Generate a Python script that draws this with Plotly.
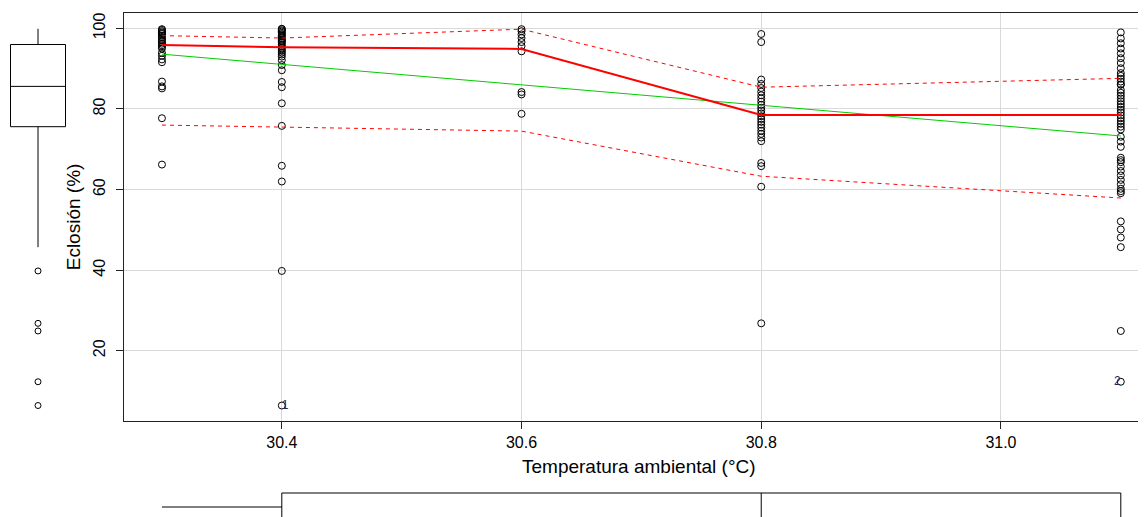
import plotly.graph_objects as go

# ---------------- data ----------------
temp_levels = [30.3, 30.4, 30.6, 30.8, 31.1]

ecl_303 = [99.8, 99.6, 99.3, 99.0, 98.8, 98.6, 98.2, 97.8, 97.4, 97.0, 96.6, 96.2, 95.8,
           95.4, 95.0, 93.9, 93.2, 92.3, 91.6, 86.8, 85.6, 85.1, 77.7, 66.2]
ecl_304 = [99.9, 99.8, 99.5, 99.2, 98.9, 98.6, 98.3, 98.0, 97.6, 97.2, 96.9, 96.8, 96.4,
           96.0, 95.6, 95.2, 94.8, 94.4, 94.0, 93.5, 93.0, 92.1, 90.9, 89.6, 86.7, 85.4,
           81.4, 75.8, 65.9, 62.0, 39.8, 6.4]
ecl_306 = [99.8, 99.3, 98.5, 97.6, 96.6, 95.6, 94.3, 84.2, 83.6, 78.8]
ecl_308 = [98.6, 96.6, 87.3, 86.2, 85.2, 84.3, 83.4, 82.6, 81.8, 81.0, 80.3, 79.6, 78.9,
           78.2, 77.5, 76.8, 76.1, 75.4, 74.6, 73.8, 72.9, 72.0, 66.6, 65.8, 60.7, 26.8]
ecl_311 = [99.0, 97.5, 96.3, 95.0, 93.8, 92.6, 91.4, 90.1, 88.9, 88.2, 87.5, 86.8, 86.1,
           86.0, 84.7, 84.0, 83.3, 82.6, 81.9, 81.2, 80.5, 79.8, 79.1, 78.4, 77.7, 77.0,
           76.3, 75.6, 74.9, 73.1, 71.9, 70.6, 67.9, 67.3, 66.8, 65.7, 64.6, 63.5, 62.4,
           61.3, 60.2, 59.6, 59.1, 52.1, 50.1, 48.1, 45.7, 24.9, 12.3]
groups = [ecl_303, ecl_304, ecl_306, ecl_308, ecl_311]

# loess smoother and spread (car::scatterplot style)
smooth_fit = [95.9, 95.3, 94.9, 78.5, 78.5]
smooth_upper = [98.2, 97.6, 99.8, 85.4, 87.6]
smooth_lower = [76.0, 75.5, 74.5, 63.3, 57.9]

# least-squares line end points
lm_x = [30.3, 31.1]
lm_y = [93.6, 73.3]

# identified points
id_x = [30.4, 31.1]
id_y = [6.4, 12.3]
id_text = ["1", "2"]
id_pos = ["middle right", "middle left"]

x_ticks = [30.4, 30.6, 30.8, 31.0]
x_ticktext = ["30.4", "30.6", "30.8", "31.0"]
y_ticks = [20, 40, 60, 80, 100]
y_ticktext = ["20", "40", "60", "80", "100"]

all_x = [t for t, g in zip(temp_levels, groups) for _ in g]
all_y = [v for g in groups for v in g]

# ---------------- figure ----------------
W, H = 1146, 517
FONT = "Liberation Sans, Arial, sans-serif"
X_RANGE = [30.268, 31.1277]
Y_RANGE = [2.66, 103.74]
X_DOM = [115.6 / W, 1.0]
Y_DOM = [(H - 412.6) / H, (H - 5.3) / H]

fig = go.Figure()

fig.add_trace(go.Scatter(
    x=all_x, y=all_y, mode="markers",
    marker=dict(symbol="circle-open", size=7, color="black", line=dict(width=1)),
    xaxis="x", yaxis="y", showlegend=False, hoverinfo="x+y"))

fig.add_trace(go.Scatter(
    x=lm_x, y=lm_y, mode="lines", line=dict(color="rgb(0,205,0)", width=1),
    xaxis="x", yaxis="y", showlegend=False))

fig.add_trace(go.Scatter(
    x=temp_levels, y=smooth_upper, mode="lines",
    line=dict(color="red", width=1, dash="4px,4px"),
    xaxis="x", yaxis="y", showlegend=False))
fig.add_trace(go.Scatter(
    x=temp_levels, y=smooth_lower, mode="lines",
    line=dict(color="red", width=1, dash="4px,4px"),
    xaxis="x", yaxis="y", showlegend=False))
fig.add_trace(go.Scatter(
    x=temp_levels, y=smooth_fit, mode="lines",
    line=dict(color="red", width=2),
    xaxis="x", yaxis="y", showlegend=False))

fig.add_trace(go.Scatter(
    x=id_x, y=id_y, mode="text", text=id_text, textposition=id_pos,
    textfont=dict(family=FONT, size=12, color="#26265a"),
    xaxis="x", yaxis="y", showlegend=False, hoverinfo="skip"))

# marginal boxplot of y (left)
fig.add_trace(go.Box(
    y=all_y, x0=0, width=55, xaxis="x2", yaxis="y2",
    quartilemethod="inclusive", boxpoints="outliers", jitter=0, pointpos=0,
    whiskerwidth=0,
    fillcolor="rgba(255,255,255,0)", line=dict(color="black", width=1),
    marker=dict(symbol="circle-open", size=6, color="black", line=dict(width=1)),
    showlegend=False))

# marginal boxplot of x (bottom)
fig.add_trace(go.Box(
    x=all_x, y0=0, width=28, orientation="h", xaxis="x3", yaxis="y3",
    quartilemethod="inclusive", boxpoints=False, whiskerwidth=0,
    fillcolor="rgba(255,255,255,0)", line=dict(color="black", width=1),
    showlegend=False))

axis_common = dict(showline=True, linecolor="#222", linewidth=1, mirror=True,
                   ticks="outside", ticklen=7, tickcolor="#222", zeroline=False,
                   showgrid=True, gridcolor="#D9D9D9", gridwidth=1,
                   tickfont=dict(family=FONT, size=16, color="black"))

fig.update_layout(
    width=W, height=H,
    margin=dict(l=0, r=0, t=0, b=0),
    paper_bgcolor="white", plot_bgcolor="white",
    showlegend=False,
    xaxis=dict(domain=X_DOM, range=X_RANGE, anchor="y",
               tickvals=x_ticks, ticktext=x_ticktext,
               title=dict(text="Temperatura ambiental (°C)", standoff=9,
                          font=dict(family=FONT, size=19, color="black")),
               **axis_common),
    yaxis=dict(domain=Y_DOM, range=Y_RANGE, anchor="x",
               tickvals=y_ticks, ticktext=y_ticktext, tickangle=-90,
               ticklabelstandoff=4,
               title=dict(text="Eclosión (%)", standoff=5,
                          font=dict(family=FONT, size=19, color="black")),
               **axis_common),
    xaxis2=dict(domain=[0, 80 / W], range=[-30, 50], anchor="y2", visible=False),
    yaxis2=dict(domain=Y_DOM, range=Y_RANGE, anchor="x2", visible=False),
    xaxis3=dict(domain=X_DOM, range=X_RANGE, anchor="y3", visible=False),
    yaxis3=dict(domain=[0, 45 / H], range=[-18, 27], anchor="x3", visible=False),
)

fig.write_html("out.html")
